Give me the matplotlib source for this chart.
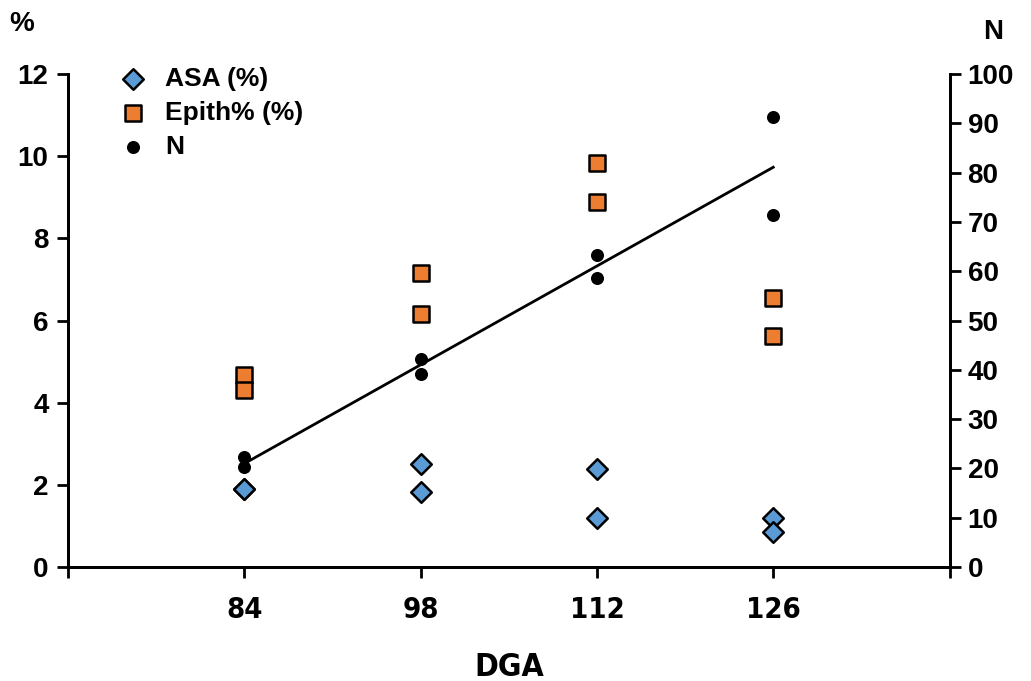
import numpy as np
import matplotlib
matplotlib.use('Agg')
import matplotlib.pyplot as plt

plt.rcParams['font.family'] = ['Liberation Sans', 'DejaVu Sans']
plt.rcParams['font.weight'] = 'bold'

dga = [84, 84, 98, 98, 112, 112, 126, 126]
asa = [1.9, 1.9, 2.5, 1.83, 2.39, 1.19, 1.19, 0.85]
epith = [4.67, 4.31, 7.16, 6.16, 9.83, 8.89, 6.55, 5.62]
n_vals = [22.4, 20.2, 42.1, 39.1, 63.3, 58.6, 91.2, 71.4]
xticks = [70, 84, 98, 112, 126, 140]
xlabels = ['', '84', '98', '112', '126', '']

fig = plt.figure(figsize=(10.31, 6.81), dpi=100)
ax = fig.add_axes([0.066, 0.1674, 0.855, 0.7239])
ax2 = ax.twinx()

ax.scatter(dga, asa, marker='D', s=110, color='#5b9bd5', edgecolor='black', linewidth=1.8, zorder=3, label='ASA (%)')
ax.scatter(dga, epith, marker='s', s=140, color='#ed7d31', edgecolor='black', linewidth=1.8, zorder=3, label='Epith% (%)')
ax2.scatter(dga, n_vals, marker='o', s=70, color='black', zorder=3, label='N')

# linear trend line for N
k, b = np.polyfit(dga, n_vals, 1)
xs = np.array([min(dga), max(dga)])
ax2.plot(xs, k * xs + b, color='black', lw=2)

ax.set_xlim(70, 140)
ax.set_ylim(0, 12)
ax2.set_ylim(0, 100)
ax.set_xticks(xticks)
ax.set_xticklabels(xlabels, family=['DejaVu Sans'], fontstretch='condensed', fontsize=21, fontweight='bold')
ax.set_yticks(range(0, 13, 2))
ax2.set_yticks(range(0, 101, 10))

for a in (ax, ax2):
    a.spines['top'].set_visible(False)
    a.spines['left'].set_linewidth(2)
    a.spines['right'].set_linewidth(2)
    a.spines['bottom'].set_linewidth(2)
    a.tick_params(direction='out', width=2, length=8)
ax.tick_params(axis='y', labelsize=20, pad=6)
ax2.tick_params(axis='y', labelsize=20, pad=5)
ax.tick_params(axis='x', pad=13)

ax.set_xlabel('DGA', family=['DejaVu Sans'], fontstretch='condensed', fontsize=23, fontweight='bold', labelpad=20)
fig.text(0.009, 0.984, '%', fontsize=20, fontweight='bold', va='top')
fig.text(0.954, 0.972, 'N', fontsize=20, fontweight='bold', va='top')

h1, l1 = ax.get_legend_handles_labels()
h2, l2 = ax2.get_legend_handles_labels()
ax.legend(h1 + h2, l1 + l2, loc='upper left', bbox_to_anchor=(0.032, 1.035), frameon=False,
          fontsize=19, handletextpad=0.2, labelspacing=0.38, borderaxespad=0)

fig.savefig('out.png', dpi=100)
